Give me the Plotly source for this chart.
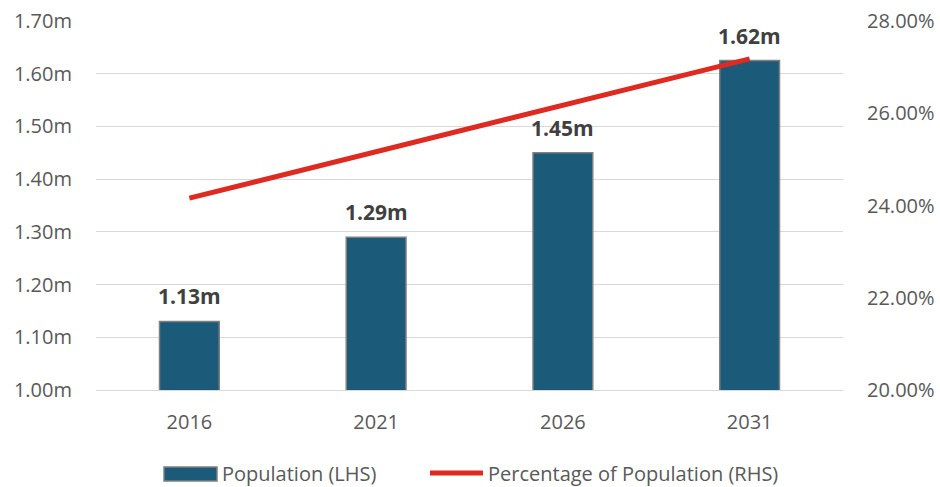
import plotly.graph_objects as go

years = ["2016", "2021", "2026", "2031"]
population = [1.13, 1.29, 1.45, 1.625]
pop_labels = ["1.13m", "1.29m", "1.45m", "1.62m"]
percentage = [24.16, 25.17, 26.17, 27.18]
left_ticks = [1.0, 1.1, 1.2, 1.3, 1.4, 1.5, 1.6, 1.7]
left_tick_text = ["1.00m", "1.10m", "1.20m", "1.30m", "1.40m", "1.50m", "1.60m", "1.70m"]
right_ticks = [20, 22, 24, 26, 28]
right_tick_text = ["20.00%", "22.00%", "24.00%", "26.00%", "28.00%"]

FONT = "Open Sans"
BAR = "#1B5B79"
RED = "#DE2A20"
GRAY = "#595959"
FS = 20

L, R, T, B = 96, 97, 21, 97
PW = 940 - L - R
PH = 487 - T - B


def px(X):
    return (X - L) / PW


def py(Y):
    return -(Y - (487 - B)) / PH


fig = go.Figure()
fig.add_trace(go.Bar(
    x=years, y=population, base=0, width=0.32,
    marker=dict(color=BAR, line=dict(color="#808080", width=1.5)),
    name="Population (LHS)", showlegend=False,
))
fig.add_trace(go.Scatter(
    x=years, y=percentage, yaxis="y2", mode="lines",
    line=dict(color=RED, width=5),
    name="Percentage of Population (RHS)", showlegend=False,
))

for i, (v, t) in enumerate(zip(population, pop_labels)):
    fig.add_annotation(x=i, y=v, text="<b>%s</b>" % t, showarrow=False,
                       yanchor="bottom", yshift=9,
                       font=dict(family=FONT, size=21, color="#404040"))

# custom legend
fig.add_shape(type="rect", xref="paper", yref="paper",
              x0=px(164), x1=px(217), y0=py(481), y1=py(467),
              fillcolor=BAR, line=dict(color="#808080", width=1.5))
fig.add_annotation(xref="paper", yref="paper", x=px(220), y=py(473),
                   text="Population (LHS)", showarrow=False, xanchor="left", yanchor="middle",
                   font=dict(family=FONT, size=FS, color=GRAY))
fig.add_shape(type="line", xref="paper", yref="paper",
              x0=px(430), x1=px(483), y0=py(473), y1=py(473),
              line=dict(color=RED, width=5))
fig.add_annotation(xref="paper", yref="paper", x=px(486), y=py(473),
                   text="Percentage of Population (RHS)", showarrow=False, xanchor="left", yanchor="middle",
                   font=dict(family=FONT, size=FS, color=GRAY))

fig.update_layout(
    width=940, height=487,
    margin=dict(l=L, r=R, t=T, b=B, autoexpand=False),
    paper_bgcolor="white", plot_bgcolor="white",
    font=dict(family=FONT, size=FS, color=GRAY),
    showlegend=False,
    xaxis=dict(type="category", range=[-0.5, 3.5], showgrid=False, showline=True,
               linecolor="#D9D9D9", linewidth=1, automargin=False,
               ticks="", tickfont=dict(size=FS, color=GRAY), ticklabelstandoff=14),
    yaxis=dict(range=[1.0, 1.7], tickvals=left_ticks, ticktext=left_tick_text,
               showgrid=True, gridcolor="#D9D9D9", gridwidth=1, zeroline=False,
               automargin=False,
               ticks="", ticklabelstandoff=23, tickfont=dict(size=FS, color=GRAY)),
    yaxis2=dict(range=[20, 28], tickvals=right_ticks, ticktext=right_tick_text,
                overlaying="y", side="right", showgrid=False, zeroline=False,
                automargin=False,
                ticks="", ticklabelstandoff=23, tickfont=dict(size=FS, color=GRAY)),
)

fig.write_html("out.html")
